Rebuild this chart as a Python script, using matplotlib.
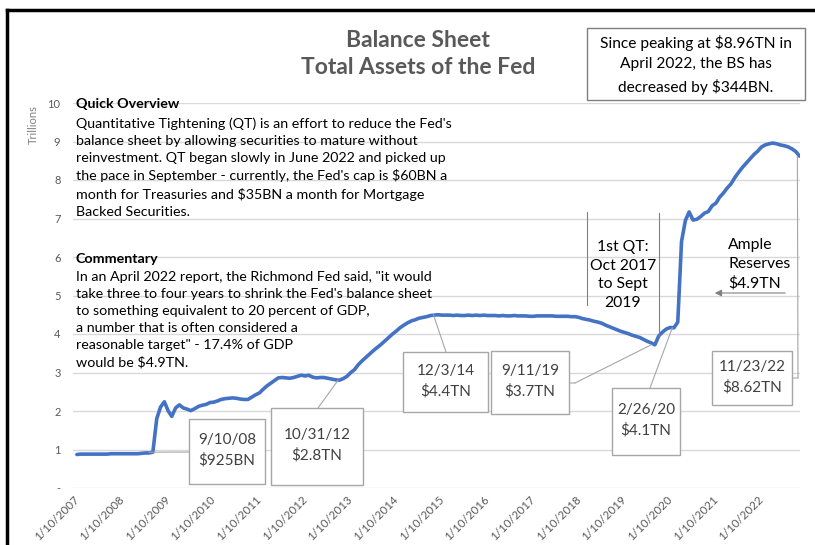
import numpy as np
import pandas as pd
import matplotlib.pyplot as plt
import matplotlib.dates as mdates
from matplotlib.patches import Rectangle, ConnectionPatch

plt.rcParams['font.family'] = ['Lato', 'DejaVu Sans']

# monthly total assets of the Fed, trillions
months = pd.date_range('2007-01-10', periods=191, freq='MS') + pd.Timedelta(days=9)
assets = [
    0.87, 0.88, 0.88, 0.88, 0.88, 0.88, 0.88, 0.88, 0.88, 0.89, 0.89, 0.89,   # 2007
    0.89, 0.89, 0.89, 0.89, 0.89, 0.90, 0.91, 0.91, 0.93, 1.80, 2.10, 2.24,   # 2008
    2.00, 1.86, 2.08, 2.16, 2.08, 2.05, 2.01, 2.06, 2.12, 2.15, 2.17, 2.22,   # 2009
    2.23, 2.26, 2.30, 2.32, 2.33, 2.34, 2.33, 2.31, 2.30, 2.30, 2.36, 2.42,   # 2010
    2.47, 2.56, 2.65, 2.72, 2.79, 2.86, 2.87, 2.86, 2.85, 2.87, 2.90, 2.93,   # 2011
    2.91, 2.93, 2.88, 2.86, 2.87, 2.87, 2.85, 2.83, 2.81, 2.80, 2.84, 2.90,   # 2012
    3.00, 3.07, 3.20, 3.30, 3.39, 3.48, 3.57, 3.65, 3.73, 3.82, 3.91, 4.00,   # 2013
    4.08, 4.16, 4.23, 4.29, 4.34, 4.37, 4.41, 4.43, 4.45, 4.48, 4.49, 4.50,   # 2014
    4.49, 4.49, 4.49, 4.48, 4.49, 4.48, 4.48, 4.49, 4.48, 4.49, 4.48, 4.49,   # 2015
    4.48, 4.48, 4.48, 4.47, 4.48, 4.47, 4.47, 4.48, 4.47, 4.47, 4.47, 4.46,   # 2016
    4.46, 4.47, 4.47, 4.47, 4.47, 4.47, 4.46, 4.46, 4.46, 4.46, 4.45, 4.45,   # 2017
    4.43, 4.40, 4.38, 4.36, 4.33, 4.31, 4.28, 4.23, 4.19, 4.15, 4.11, 4.07,   # 2018
    4.04, 4.01, 3.97, 3.94, 3.91, 3.86, 3.81, 3.77, 3.72, 3.95, 4.05, 4.13,   # 2019
    4.17, 4.16, 4.31, 6.40, 6.95, 7.17, 6.96, 6.98, 7.05, 7.14, 7.18, 7.33,   # 2020
    7.40, 7.55, 7.66, 7.79, 7.90, 8.06, 8.20, 8.33, 8.44, 8.55, 8.66, 8.75,   # 2021
    8.86, 8.91, 8.94, 8.96, 8.94, 8.91, 8.89, 8.86, 8.81, 8.74, 8.62,         # 2022
]
tick_dates = pd.to_datetime([f'{y}-01-10' for y in range(2007, 2023)])
tick_labels = [f'1/10/{y}' for y in range(2007, 2023)]
y_ticks = [0, 1, 2, 3, 4, 5, 6, 7, 8, 9, 10]
y_labels = ['-', '1', '2', '3', '4', '5', '6', '7', '8', '9', '10']

# callouts: date, value, text, box (left, top, width, height) and leader end, in pixels
callouts = [
    ('2008-09-10', 0.93, '9/10/08\n$925BN', (189, 419, 76, 65), [(189, 452)]),
    ('2012-10-31', 2.80, '10/31/12\n$2.8TN', (271, 408, 92, 77), [(318, 408)]),
    ('2014-12-03', 4.50, '12/3/14\n$4.4TN', (403, 352, 85, 60), [(446, 352)]),
    ('2019-09-11', 3.72, '9/11/19\n$3.7TN', (491, 351, 78, 63), [(575, 383), (569, 383)]),
    ('2020-02-26', 4.16, '2/26/20\n$4.1TN', (612, 388, 68, 67), [(650, 388)]),
    ('2022-11-23', 8.62, '11/23/22\n$8.62TN', (712, 351, 80, 54), [(798, 378), (792, 378)]),
]

W, H = 815, 545
fig = plt.figure(figsize=(W / 100, H / 100), dpi=100)


def px(x, y):
    return (x / W, 1 - y / H)


ax = fig.add_axes([73 / W, 57 / H, 727 / W, 385 / H])
ax.plot(months, assets, color='#4472C4', lw=2.6, solid_capstyle='round', zorder=3)
ax.set_xlim(months[0], months[-1] + pd.Timedelta(days=4))
ax.set_ylim(0, 10)
ax.set_yticks(y_ticks)
ax.set_yticklabels(y_labels)
ax.set_xticks(tick_dates)
ax.set_xticklabels(tick_labels, rotation=45, ha='right', rotation_mode='anchor')
ax.tick_params(axis='y', length=0, pad=9, labelsize=8, labelcolor='#595959')
ax.tick_params(axis='x', length=0, pad=4, labelsize=8.3, labelcolor='#595959')
ax.grid(axis='y', color='#d9d9d9', lw=1)
ax.set_axisbelow(True)
for s in ax.spines.values():
    s.set_visible(False)

# outer frame (left and top edges only visible)
fig.add_artist(plt.Line2D([7 / W, 7 / W], [0, 1 - 10 / H], color='black', lw=2.5))
fig.add_artist(plt.Line2D([7 / W, 1], [1 - 10 / H, 1 - 10 / H], color='black', lw=2.5))

fig.text(*px(33, 125), 'Trillions', rotation=90, ha='center', va='center',
         fontsize=8, color='#7f7f7f')

fig.text(*px(418, 54), 'Balance Sheet\nTotal Assets of the Fed', ha='center', va='center',
         fontsize=16.5, fontweight='bold', color='#595959', linespacing=1.35)


def box(left, top, w, h, ec):
    fig.add_artist(Rectangle(px(left, top + h), w / W, h / H, transform=fig.transFigure,
                             fc='white', ec=ec, lw=1, zorder=5))


box(587, 28, 218, 72, '#7f7f7f')
fig.text(*px(696, 65), 'Since peaking at $8.96TN in\nApril 2022, the BS has\ndecreased by $344BN.',
         ha='center', va='center', fontsize=11.2, color='black', linespacing=1.55, zorder=6)

overview = ("Quantitative Tightening (QT) is an effort to reduce the Fed's\n"
            "balance sheet by allowing securities to mature without\n"
            "reinvestment. QT began slowly in June 2022 and picked up\n"
            "the pace in September - currently, the Fed's cap is $60BN a\n"
            "month for Treasuries and $35BN a month for Mortgage\n"
            "Backed Securities.")
commentary = ("In an April 2022 report, the Richmond Fed said, \"it would\n"
              "take three to four years to shrink the Fed's balance sheet\n"
              "to something equivalent to 20 percent of GDP,\n"
              "a number that is often considered a\n"
              "reasonable target\" - 17.4% of GDP\n"
              "would be $4.9TN.")
fig.text(*px(76, 104), 'Quick Overview', ha='left', va='center', fontsize=10.3, fontweight='bold')
fig.text(*px(76, 117), overview, ha='left', va='top', fontsize=10.3, linespacing=1.5)
fig.text(*px(76, 259), 'Commentary', ha='left', va='center', fontsize=10.3, fontweight='bold')
fig.text(*px(76, 271), commentary, ha='left', va='top', fontsize=10.3, linespacing=1.5)

for d, v, label, (left, top, w, h), leader in callouts:
    prev_xy, prev_tr = (mdates.date2num(pd.Timestamp(d)), v), ax.transData
    for p in leader:
        con = ConnectionPatch(xyA=prev_xy, coordsA=prev_tr, xyB=px(*p), coordsB=fig.transFigure,
                              color='#a6a6a6', lw=0.8, zorder=4)
        fig.add_artist(con)
        prev_xy, prev_tr = px(*p), fig.transFigure
    box(left, top, w, h, '#a6a6a6')
    fig.text(*px(left + w / 2, top + h / 2 - 1), label, ha='center', va='center',
             fontsize=11, color='#404040', linespacing=1.5, zorder=6)

# first QT bracket
fig.text(*px(623, 275), '1st QT:\nOct 2017\nto Sept\n2019', ha='center', va='center',
         fontsize=11.3, color='black', linespacing=1.45)
fig.add_artist(plt.Line2D([587 / W, 587 / W], [1 - 212 / H, 1 - 305 / H], color='#808080', lw=0.8))
fig.add_artist(plt.Line2D([659 / W, 659 / W], [1 - 213 / H, 1 - 336 / H], color='#808080', lw=0.8))

# ample reserves
fig.text(*px(728, 264), 'Ample\nReserves\n$4.9TN', ha='left', va='center',
         fontsize=11.3, color='black', linespacing=1.45)
ax.annotate('', xy=px(712, 293), xycoords='figure fraction',
            xytext=px(788, 293), textcoords='figure fraction',
            arrowprops=dict(arrowstyle='-|>', color='#808080', lw=0.8, mutation_scale=10))

fig.savefig('out.png', dpi=100)
